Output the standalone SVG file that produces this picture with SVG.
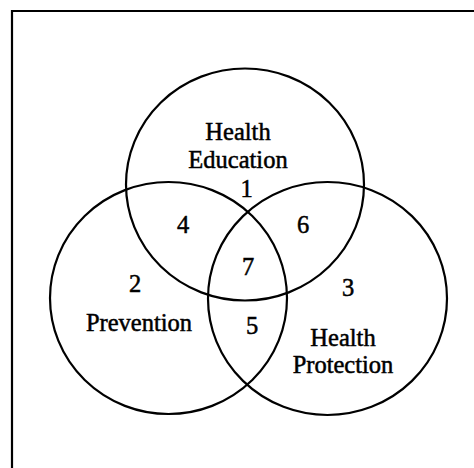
<svg xmlns="http://www.w3.org/2000/svg" width="474" height="468" viewBox="0 0 474 468">
<style>
.c{fill:none;stroke:#000;stroke-width:2.2}
.t{font-family:"Liberation Serif","Times New Roman",serif;font-size:24.5px;fill:#000;stroke:#000;stroke-width:0.5;text-anchor:middle}
</style>
<rect width="474" height="468" fill="#fff"/>
<g id="frame"><path d="M12,468 V11 H474" fill="none" stroke="#000" stroke-width="2.2"/></g>
<g id="education"><ellipse class="c" cx="245" cy="184.5" rx="119" ry="116"/>
<text class="t" x="238" y="140">Health</text><text class="t" x="238" y="168">Education</text><text class="t" x="246.5" y="197">1</text></g>
<g id="prevention"><ellipse class="c" cx="168.5" cy="298" rx="118.5" ry="116"/>
<text class="t" x="135" y="292">2</text><text class="t" x="139" y="331">Prevention</text></g>
<g id="protection"><ellipse class="c" cx="327.5" cy="298.5" rx="119.5" ry="116.5"/>
<text class="t" x="348" y="296">3</text><text class="t" x="343" y="346">Health</text><text class="t" x="343" y="373">Protection</text></g>
<g id="overlaps">
<text class="t" x="183" y="233">4</text>
<text class="t" x="303" y="233">6</text>
<text class="t" x="248" y="275">7</text>
<text class="t" x="252" y="334">5</text>
</g>
</svg>
